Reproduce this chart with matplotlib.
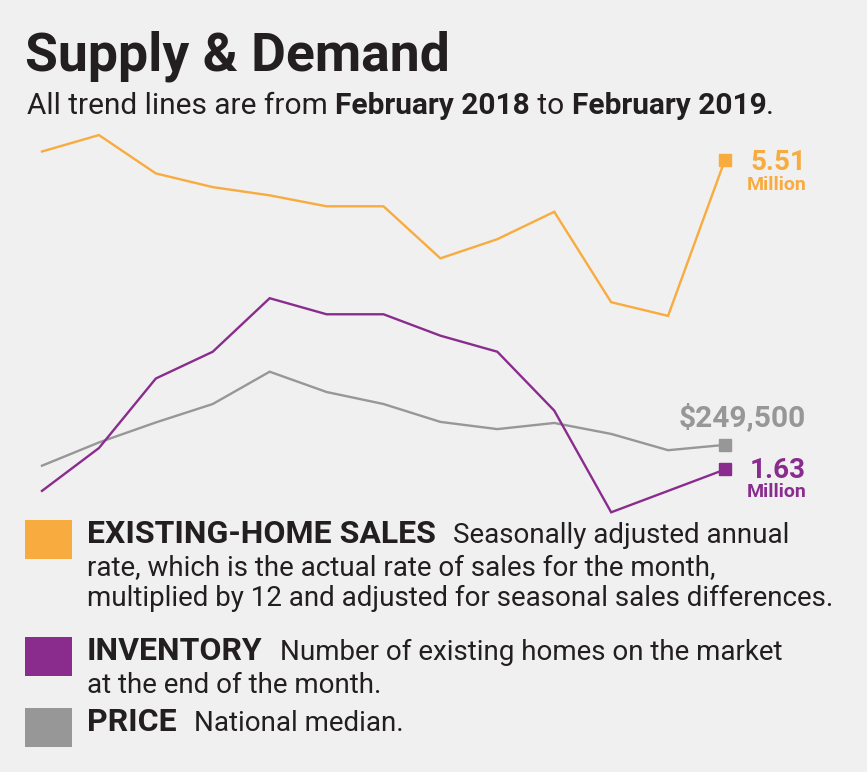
import matplotlib
matplotlib.use("Agg")
import matplotlib.pyplot as plt

plt.rcParams['font.family'] = ['Roboto', 'DejaVu Sans']

# data, Feb 2018 .. Feb 2019
months = ['Feb 18', 'Mar', 'Apr', 'May', 'Jun', 'Jul', 'Aug', 'Sep', 'Oct', 'Nov', 'Dec', 'Jan 19', 'Feb 19']
sales = [5.54, 5.60, 5.46, 5.41, 5.38, 5.34, 5.34, 5.15, 5.22, 5.32, 4.99, 4.94, 5.51]         # millions, SAAR
inventory = [1.59, 1.67, 1.80, 1.85, 1.95, 1.92, 1.92, 1.88, 1.85, 1.74, 1.55, 1.59, 1.63]  # millions
price = [241700, 250400, 257900, 264800, 276900, 269300, 264800, 258100, 255400, 257700, 253600, 247500, 249500]

ORANGE = '#F8AB3E'
PURPLE = '#8A2C8E'
GRAY = '#979797'
INK = '#231F20'
BG = '#F0F0F0'

W, H = 867, 772
fig = plt.figure(figsize=(W / 100, H / 100), dpi=100, facecolor=BG)


def fx(px):
    return px / W


def fy(py):
    return 1 - py / H


# each series gets its own vertical scale, same plot box
rect = [fx(42), fy(520), fx(725) - fx(42), fy(120) - fy(520)]
series = [
    (sales, ORANGE, (4.195, 5.655)),
    (price, GRAY, (221360, 371170)),
    (inventory, PURPLE, (1.5356, 2.283)),
]
x = list(range(len(months)))
for i, (vals, col, lim) in enumerate(series):
    ax = fig.add_axes(rect, label='s%d' % i)
    ax.patch.set_visible(False)
    ax.plot(x, vals, color=col, lw=1.7, solid_joinstyle='miter', clip_on=False)
    ax.plot(x[-1], vals[-1], 's', color=col, ms=9, clip_on=False)
    ax.set_xlim(0, 12)
    ax.set_ylim(*lim)
    ax.axis('off')

# end labels
fig.text(fx(806), fy(170), '%.2f' % sales[-1], color=ORANGE, fontsize=20, fontweight='bold',
         ha='right', va='baseline')
fig.text(fx(806), fy(190), 'Million', color=ORANGE, fontsize=14, fontweight='bold',
         ha='right', va='baseline')
fig.text(fx(806), fy(426), '${:,}'.format(price[-1]), color=GRAY, fontsize=21.5, fontweight='bold',
         ha='right', va='baseline')
fig.text(fx(806), fy(478), '%.2f' % inventory[-1], color=PURPLE, fontsize=20, fontweight='bold',
         ha='right', va='baseline')
fig.text(fx(806), fy(497), 'Million', color=PURPLE, fontsize=14, fontweight='bold',
         ha='right', va='baseline')

renderer = fig.canvas.get_renderer()


def runs(x0, y0, parts, size):
    # write text pieces one after another on one baseline
    xp = x0
    for txt, bold in parts:
        t = fig.text(fx(xp), fy(y0), txt, color=INK, fontsize=size,
                     fontweight='bold' if bold else 'normal', va='baseline')
        bb = t.get_window_extent(renderer)
        xp += bb.width
    return xp


fig.text(fx(25), fy(71), 'Supply & Demand', color=INK, fontsize=38.5, fontweight='bold', va='baseline')
runs(27, 114, [('All trend lines are from ', False), ('February 2018', True), (' to ', False),
               ('February 2019', True), ('.', False)], 21.5)

# legend
legend = [
    (ORANGE, 520, 'EXISTING-HOME SALES', 'Seasonally adjusted annual',
     ['rate, which is the actual rate of sales for the month,',
      'multiplied by 12 and adjusted for seasonal sales differences.']),
    (PURPLE, 637, 'INVENTORY', 'Number of existing homes on the market',
     ['at the end of the month.']),
    (GRAY, 708, 'PRICE', 'National median.', []),
]
for col, top, head, first, rest in legend:
    fig.patches.append(plt.Rectangle((fx(25), fy(top + 39)), fx(72) - fx(25), fy(top) - fy(top + 39),
                                     transform=fig.transFigure, color=col, lw=0))
    base = top + 23
    xe = runs(87, base, [(head, True)], 23)
    fig.text(fx(xe + 17), fy(base), first, color=INK, fontsize=20, va='baseline')
    for j, line in enumerate(rest):
        fig.text(fx(87), fy(base + 33 + 30 * j), line, color=INK, fontsize=20, va='baseline')

fig.savefig('out.png', dpi=100, facecolor=BG)
